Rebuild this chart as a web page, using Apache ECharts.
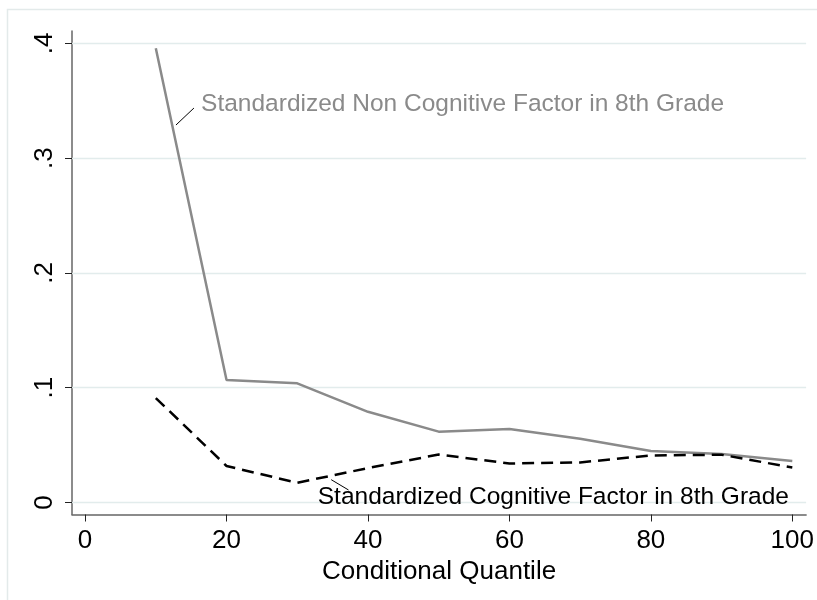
<!DOCTYPE html>
<html>
<head>
<meta charset="utf-8">
<script src="https://cdn.jsdelivr.net/npm/echarts@6/dist/echarts.min.js"></script>
<style>html,body{margin:0;padding:0;background:#fff;}#c{width:817px;height:600px;}</style>
</head>
<body>
<div id="c"></div>
<script>
var quantiles = [10, 20, 30, 40, 50, 60, 70, 80, 90, 100];
var nonCognitive = [0.3957, 0.1067, 0.1038, 0.079, 0.0617, 0.064, 0.0556, 0.0449, 0.0422, 0.0362];
var cognitive = [0.091, 0.0318, 0.0172, 0.030, 0.0418, 0.034, 0.0349, 0.041, 0.0416, 0.0305];
var yTicks = [0, 0.1, 0.2, 0.3, 0.4];
var yTickLabels = ['0', '.1', '.2', '.3', '.4'];
var xTicks = [0, 20, 40, 60, 80, 100];
var nonCogLabel = 'Standardized Non Cognitive Factor in 8th Grade';
var cogLabel = 'Standardized Cognitive Factor in 8th Grade';
var nonCogAnchor = [16.4, 0.347];
var nonCogLeader = [[12.85, 0.3288], [15.39, 0.3436]];
var cogAnchor = [32.9, 0.0048];
var cogLeader = [[34.8, 0.0199], [37.25, 0.0109]];

var font = 'Arial, "Liberation Sans", sans-serif';
var chart = echarts.init(document.getElementById('c'), null, {renderer: 'canvas'});

function pairs(xs, ys) { return xs.map(function (x, i) { return [x, ys[i]]; }); }

var option = {
  animation: false,
  backgroundColor: '#ffffff',
  grid: {left: 72, right: 10, top: 31, bottom: 85.5, containLabel: false},
  xAxis: {
    type: 'value', min: -1.85, max: 101.95,
    axisLine: {show: true, onZero: false, lineStyle: {color: '#666', width: 1.5}},
    axisTick: {show: true, length: 7, lineStyle: {color: '#222', width: 1}, customValues: xTicks},
    axisLabel: {show: true, customValues: xTicks, fontSize: 26, fontFamily: font, color: '#000', margin: 13},
    splitLine: {show: false},
    name: 'Conditional Quantile', nameLocation: 'middle', nameGap: 44,
    nameTextStyle: {fontSize: 26, fontFamily: font, color: '#000'}
  },
  yAxis: {
    type: 'value', min: -0.01045, max: 0.4107,
    axisLine: {show: true, onZero: false, lineStyle: {color: '#666', width: 1.5}},
    axisTick: {show: true, length: 7, lineStyle: {color: '#222', width: 1}, customValues: yTicks},
    axisLabel: {show: true, customValues: yTicks, rotate: 90, fontSize: 26, fontFamily: font, color: '#000', margin: 14,
      formatter: function (v) { var i = yTicks.indexOf(Math.round(v * 10) / 10); return i >= 0 ? yTickLabels[i] : ''; }},
    splitLine: {show: false}
  },
  series: [
    {
      type: 'line', data: pairs(quantiles, nonCognitive), symbol: 'none', z: 3,
      lineStyle: {color: '#8a8a8a', width: 2.5},
      markLine: {
        silent: true, symbol: 'none', label: {show: false}, z: 1,
        lineStyle: {color: '#e2ecec', width: 1.3, type: 'solid'},
        data: yTicks.map(function (t) { return [{coord: [-1.85, t]}, {coord: [101.95, t]}]; })
      }
    },
    {
      type: 'line', data: pairs(quantiles, cognitive), symbol: 'none', z: 4,
      lineStyle: {color: '#000', width: 2.5, type: [12, 7]}
    }
  ]
};
chart.setOption(option);

function px(p) { return chart.convertToPixel({gridIndex: 0}, p); }
var a1 = px(nonCogAnchor), a2 = px(cogAnchor);
var l1a = px(nonCogLeader[0]), l1b = px(nonCogLeader[1]);
var l2a = px(cogLeader[0]), l2b = px(cogLeader[1]);
chart.setOption({
  graphic: [
    {type: 'rect', shape: {x: 7.5, y: 9.5, width: 830, height: 620}, style: {fill: 'none', stroke: '#e3eaea', lineWidth: 1.5}, z: -1, silent: true},
    {type: 'line', shape: {x1: l1a[0], y1: l1a[1], x2: l1b[0], y2: l1b[1]}, style: {stroke: '#000', lineWidth: 1}, z: 10},
    {type: 'line', shape: {x1: l2a[0], y1: l2a[1], x2: l2b[0], y2: l2b[1]}, style: {stroke: '#000', lineWidth: 1}, z: 10},
    {type: 'text', x: a1[0], y: a1[1], style: {text: nonCogLabel, fill: '#8a8a8a', font: '24.5px ' + font, textVerticalAlign: 'middle', verticalAlign: 'middle'}, z: 10},
    {type: 'text', x: a2[0], y: a2[1], style: {text: cogLabel, fill: '#000', font: '24.5px ' + font, textVerticalAlign: 'middle', verticalAlign: 'middle'}, z: 10}
  ]
});
</script>
</body>
</html>
